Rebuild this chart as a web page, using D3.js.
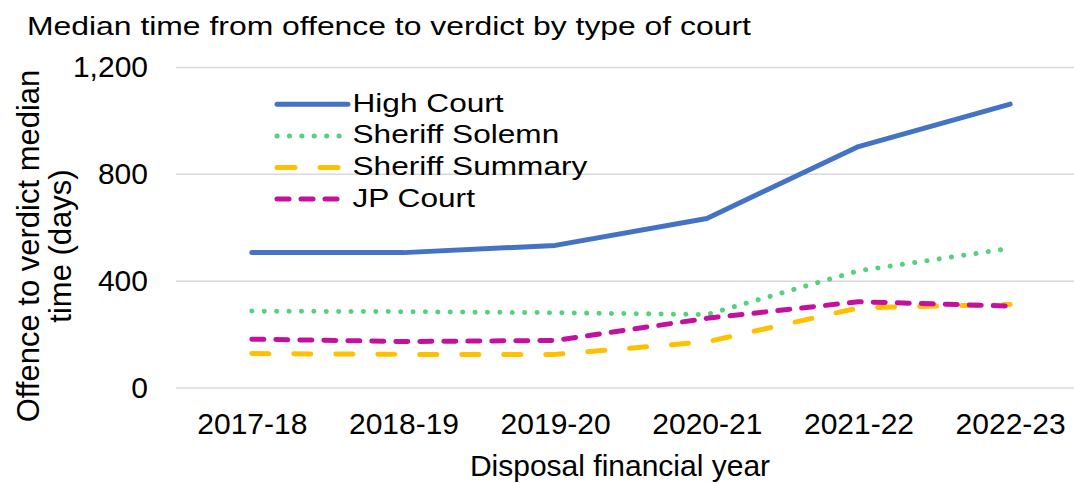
<!DOCTYPE html>
<html>
<head>
<meta charset="utf-8">
<script src="https://cdn.jsdelivr.net/npm/d3@7"></script>
<style>
  body { margin: 0; background: #fff; }
  text { font-family: "Liberation Sans", Arial, sans-serif; fill: #000; }
</style>
</head>
<body>
<div id="chart"></div>
<script>
const width = 1074
const height = 483

// Data
const categories = ["2017-18", "2018-19", "2019-20", "2020-21", "2021-22", "2022-23"]
const highCourt = [505, 505, 532, 633, 902, 1061]
const sheriffSolemn = [286, 284, 280, 273, 437, 521]
const sheriffSummary = [127, 124, 124, 171, 298, 311]
const jpCourt = [181, 172, 176, 259, 321, 305]
const yTicks = [0, 400, 800, 1200]
const seriesNames = ["High Court", "Sheriff Solemn", "Sheriff Summary", "JP Court"]

const series = [
    {name: seriesNames[0], values: highCourt, color: "#4472c4", dash: null},
    {name: seriesNames[1], values: sheriffSolemn, color: "#55d07f", dash: "0.1 12.3"},
    {name: seriesNames[2], values: sheriffSummary, color: "#ffc000", dash: "17 25"},
    {name: seriesNames[3], values: jpCourt, color: "#c5109f", dash: "12 12"}
]

const plot = {left: 176, right: 1086, top: 67, bottom: 387.5}

const svg = d3.select("div#chart").append("svg").attr("width", width).attr("height", height)

const x = d3.scalePoint().domain(categories).range([plot.left, plot.right]).padding(0.5)
const y = d3.scaleLinear().domain([0, 1200]).range([plot.bottom, plot.top])

// Title (glyphs look horizontally stretched in the reference)
svg.append("text")
    .attr("transform", "translate(27, 35) scale(1.25, 1)")
    .attr("font-size", 25.5)
    .text("Median time from offence to verdict by type of court")

// Gridlines + y tick labels
const yAxisGroup = svg.append("g").attr("transform", `translate(${plot.left}, 0)`)
yAxisGroup.call(d3.axisLeft(y).tickValues(yTicks).tickFormat(d3.format(",")).tickSizeInner(-(plot.right - plot.left)).tickSizeOuter(0).tickPadding(28))
yAxisGroup.select(".domain").remove()
yAxisGroup.selectAll(".tick line").attr("stroke", "#d9d9d9").attr("stroke-width", 1.5)
yAxisGroup.selectAll(".tick text").attr("font-size", 30).attr("font-family", "Liberation Sans, Arial, sans-serif").attr("fill", "#000").attr("dy", "0.33em")

// x tick labels
const xAxisGroup = svg.append("g").attr("transform", `translate(0, ${plot.bottom})`)
xAxisGroup.call(d3.axisBottom(x).tickSize(0).tickPadding(25))
xAxisGroup.select(".domain").remove()
xAxisGroup.selectAll(".tick text").attr("font-size", 30).attr("font-family", "Liberation Sans, Arial, sans-serif").attr("fill", "#000")

// Axis titles
svg.append("text")
    .attr("x", (plot.left + plot.right) / 2 - 11)
    .attr("y", 476)
    .attr("text-anchor", "middle")
    .attr("font-size", 30)
    .text("Disposal financial year")

const yTitle = svg.append("text")
    .attr("transform", "translate(0, 246) rotate(-90)")
    .attr("text-anchor", "middle")
    .attr("font-size", 31)
yTitle.append("tspan").attr("x", 0).attr("y", 39).text("Offence to verdict median")
yTitle.append("tspan").attr("x", 0).attr("y", 71).text("time (days)")

// Lines
const line = d3.line()
    .x((d, i) => x(categories[i]))
    .y(d => y(d))

const linesGroup = svg.append("g").attr("id", "linesGroup")
linesGroup.selectAll("path")
    .data(series)
    .enter().append("path")
    .attr("d", d => line(d.values))
    .attr("fill", "none")
    .attr("stroke", d => d.color)
    .attr("stroke-width", 5)
    .attr("stroke-linecap", "round")
    .attr("stroke-linejoin", "round")
    .attr("stroke-dasharray", d => d.dash)

// Legend
const legendGroup = svg.append("g").attr("id", "legendGroup")
const legendRows = legendGroup.selectAll("g")
    .data(series)
    .enter().append("g")
    .attr("transform", (d, i) => `translate(277, ${104.3 + i * 31.6})`)

legendRows.append("line")
    .attr("x1", 0)
    .attr("x2", 71)
    .attr("stroke", d => d.color)
    .attr("stroke-width", 5)
    .attr("stroke-linecap", "round")
    .attr("stroke-dasharray", (d, i) => i === 2 ? "18 25" : d.dash)

legendRows.append("text")
    .attr("transform", "translate(75.5, 7.4) scale(1.24, 1)")
    .attr("font-size", 25.5)
    .text(d => d.name)
</script>
</body>
</html>
